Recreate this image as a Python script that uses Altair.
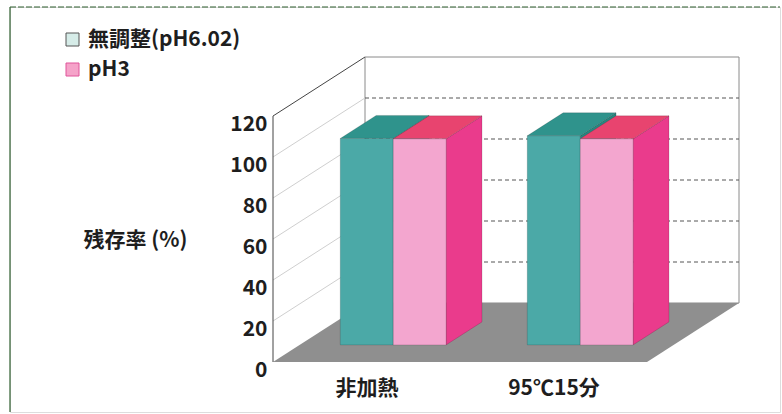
import json
import altair as alt
import pandas as pd

# ---------------- data ----------------
categories = ["非加熱", "95℃15分"]
series = ["無調整(pH6.02)", "pH3"]
values_unadjusted = [100.7, 102.0]
values_ph3 = [100.5, 100.5]
y_ticks = [0, 20, 40, 60, 80, 100, 120]
y_title = "残存率 (%)"

series_values = [values_unadjusted, values_ph3]
face_keys = ["s0_front", "s0_side", "s0_top", "s1_front", "s1_side", "s1_top"]
face_colors = ["#4ba9a7", "#27867f", "#2f938c", "#f3a6cf", "#ea3b8c", "#e8446f"]
legend_fill = ["#d6ece8", "#f5a3c9"]
legend_stroke = ["#555555", "#e0559a"]

# ---------------- layout (pixels) ----------------
CANVAS_W, CANVAS_H = 782, 414
FRAME_L, FRAME_T, FRAME_R, FRAME_B = 10, 7, 780, 412
ORIGIN_X, ORIGIN_Y = 273, 362      # front-left floor corner
PX_PER_CAT = 187
PX_PER_UNIT = 2.05
DEPTH_PX_X, DEPTH_PX_Y = 92, 59
FONT = "Noto Sans CJK JP"
WEIGHT = 600

W = FRAME_R - FRAME_L
H = FRAME_B - FRAME_T
x_dom = [(FRAME_L - ORIGIN_X) / PX_PER_CAT, (FRAME_R - ORIGIN_X) / PX_PER_CAT]
y_dom = [(ORIGIN_Y - FRAME_B) / PX_PER_UNIT, (ORIGIN_Y - FRAME_T) / PX_PER_UNIT]
DX = DEPTH_PX_X / PX_PER_CAT
DY = DEPTH_PX_Y / PX_PER_UNIT
NCAT = len(categories)
YMAX = max(y_ticks)
BAR_W = 0.283
F0, F1 = 0.29, 0.68

ox0, oy0 = F0 * DX, F0 * DY
ox1, oy1 = F1 * DX, F1 * DY

# ---------------- derived geometry ----------------
fronts, sides, tops, legend_rows = [], [], [], []
for c in range(NCAT):
    for s, name in enumerate(series):
        v = series_values[s][c]
        bar = f"{c}_{s}"
        xl = c + 0.5 - BAR_W + s * BAR_W
        xr = xl + BAR_W
        fk, sk, tk = f"s{s}_front", f"s{s}_side", f"s{s}_top"
        fronts += [
            dict(bar=bar, face=fk, x=xl + ox0, y=oy0, y2=v + oy0),
            dict(bar=bar, face=fk, x=xr + ox0, y=oy0, y2=v + oy0),
        ]
        sides += [
            dict(bar=bar, face=sk, x=xr + ox0, y=oy0, y2=v + oy0),
            dict(bar=bar, face=sk, x=xr + ox1, y=oy1, y2=v + oy1),
        ]
        tops += [
            dict(bar=bar, face=tk, x=xl + ox0, y=v + oy0, y2=v + oy0),
            dict(bar=bar, face=tk, x=xl + ox1, y=v + oy0, y2=v + oy1),
            dict(bar=bar, face=tk, x=xr + ox0, y=v + oy0, y2=v + oy1),
            dict(bar=bar, face=tk, x=xr + ox1, y=v + oy1, y2=v + oy1),
        ]
        xm = (xl + xr) / 2 + ox0
        ym = v / 2 + oy0
        legend_rows.append(dict(series=name, x=xm, y=ym))

floor = pd.DataFrame([
    dict(x=0, y=0, y2=0),
    dict(x=DX, y=0, y2=DY),
    dict(x=NCAT, y=0, y2=DY),
    dict(x=NCAT + DX, y=DY, y2=DY),
])
back_wall = pd.DataFrame([dict(x=DX, x2=DX + NCAT, y=DY, y2=YMAX + DY)])
inner = [t for t in y_ticks if 0 < t < YMAX]
back_grid = pd.DataFrame([dict(x=DX, x2=DX + NCAT, y=t + DY) for t in inner])
side_grid = pd.DataFrame([dict(x=0, x2=DX, y=t, y2=t + DY) for t in inner])
side_top = pd.DataFrame([dict(x=0, x2=DX, y=YMAX, y2=YMAX + DY)])
axis_line = pd.DataFrame([dict(x=0, y=0, y2=YMAX)])

# ---------------- scales / axes ----------------
xs = alt.Scale(domain=x_dom, nice=False, zero=False)
ys = alt.Scale(domain=y_dom, nice=False, zero=False)
label_expr = f"{json.dumps(categories, ensure_ascii=False)}[floor(datum.value)]"
x_axis = alt.Axis(
    values=[i + 0.5 for i in range(NCAT)], labelExpr=label_expr,
    domain=False, ticks=False, grid=False, title=None,
    offset=-(FRAME_B - ORIGIN_Y), labelPadding=15,
    labelFont=FONT, labelFontSize=21, labelFontWeight=WEIGHT, labelColor="#1e1e1e",
)
y_axis = alt.Axis(
    values=y_ticks, domain=False, ticks=False, grid=False,
    offset=-(ORIGIN_X - FRAME_L), labelPadding=6, labelOffset=8,
    labelFont=FONT, labelFontSize=21, labelFontWeight=WEIGHT, labelColor="#1e1e1e",
    title=y_title, titleAngle=0, titleAlign="left", titleBaseline="middle",
    titleX=83 - ORIGIN_X, titleY=240 - FRAME_T,
    titleFont=FONT, titleFontSize=21, titleFontWeight=WEIGHT, titleColor="#1e1e1e",
)


def X(field="x"):
    return alt.X(f"{field}:Q", scale=xs, axis=x_axis)


def Y(field="y"):
    return alt.Y(f"{field}:Q", scale=ys, axis=y_axis)


face_scale = alt.Scale(domain=face_keys, range=face_colors)

leg = alt.Legend(
    title=None, orient="none", legendX=52, legendY=22,
    symbolType="square", symbolSize=169, symbolStrokeWidth=1,
    labelFont=FONT, labelFontSize=21, labelFontWeight=WEIGHT, labelColor="#1e1e1e",
    labelOffset=5, rowPadding=8, padding=0,
)

legend_layer = alt.Chart(pd.DataFrame(legend_rows)).mark_rect().encode(
    x=X(), x2="x", y=Y(), y2="y",
    fill=alt.Fill("series:N", scale=alt.Scale(domain=series, range=legend_fill), legend=leg),
    stroke=alt.Stroke("series:N", scale=alt.Scale(domain=series, range=legend_stroke), legend=leg),
)

wall = alt.Chart(back_wall).mark_rect(fill="white", stroke="#8a8a8a", strokeWidth=1).encode(
    x=X(), x2="x2", y=Y(), y2="y2")
wall_grid = alt.Chart(back_grid).mark_rule(color="#555555", strokeDash=[4, 3], strokeWidth=1).encode(
    x=X(), x2="x2", y=Y())
left_grid = alt.Chart(side_grid).mark_rule(color="#cfcfcf", strokeWidth=1).encode(
    x=X(), x2="x2", y=Y(), y2="y2")
left_top = alt.Chart(side_top).mark_rule(color="#444444", strokeWidth=1).encode(
    x=X(), x2="x2", y=Y(), y2="y2")
floor_layer = alt.Chart(floor).mark_area(color="#8f8f8f").encode(
    x=X(), y=Y(), y2="y2")
yline = alt.Chart(axis_line).mark_rule(color="#444444", strokeWidth=1).encode(
    x=X(), y=Y(), y2="y2")


def faces(rows):
    return alt.Chart(pd.DataFrame(rows)).mark_area(
        stroke="black", strokeOpacity=0.18, strokeWidth=0.8, opacity=1
    ).encode(
        x=X(), y=Y(), y2="y2",
        color=alt.Color("face:N", scale=face_scale, legend=None),
        detail="bar:N",
    )


frame_df = pd.DataFrame([dict(k=1)])
frame_top = alt.Chart(frame_df).mark_rule(color="#2f5f2f", strokeWidth=1.2, strokeDash=[6, 2]).encode(
    x=alt.value(0), x2=alt.value(W), y=alt.value(0))
frame_left = alt.Chart(frame_df).mark_rule(color="#2f5f2f", strokeWidth=1.2).encode(
    x=alt.value(0), y=alt.value(0), y2=alt.value(H))

chart = alt.layer(
    legend_layer, wall, wall_grid, left_grid, left_top, floor_layer, yline,
    faces(sides), faces(tops), faces(fronts), frame_top, frame_left,
).properties(
    width=W, height=H,
    autosize=alt.AutoSizeParams(type="none"),
    padding={"left": FRAME_L, "top": FRAME_T, "right": CANVAS_W - FRAME_R, "bottom": CANVAS_H - FRAME_B},
).configure_view(stroke="#cfe0c8", strokeWidth=1).configure(background="white")

chart.save("out.html", embed_options={"renderer": "svg", "actions": False})
